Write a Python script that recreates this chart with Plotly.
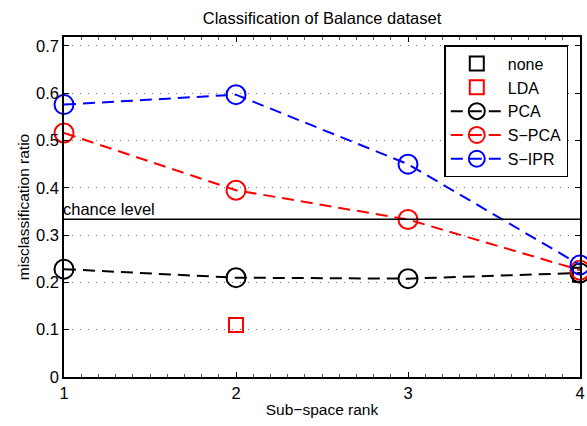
import plotly.graph_objects as go

ranks = [1, 2, 3, 4]
pca = [0.228, 0.210, 0.208, 0.220]
spca = [0.516, 0.395, 0.333, 0.226]
sipr = [0.576, 0.597, 0.450, 0.237]
none_x = [4]
none_y = [0.216]
lda_x = [2]
lda_y = [0.110]
chance = 1 / 3

font = "Liberation Sans, Arial, sans-serif"
fig = go.Figure()

fig.add_trace(go.Scatter(x=none_x, y=none_y, mode="markers", name="none",
                         marker=dict(symbol="square-open", size=14, color="black", line=dict(width=2))))
fig.add_trace(go.Scatter(x=lda_x, y=lda_y, mode="markers", name="LDA",
                         marker=dict(symbol="square-open", size=14, color="red", line=dict(width=2))))
for name, vals, col in [("PCA", pca, "black"), ("S\u2212PCA", spca, "red"), ("S\u2212IPR", sipr, "blue")]:
    fig.add_trace(go.Scatter(x=ranks, y=vals, mode="lines+markers", name=name,
                             line=dict(color=col, width=2, dash="12px,7px"),
                             marker=dict(symbol="circle-open", size=19, color=col, line=dict(width=2)),
                             cliponaxis=False))

fig.add_shape(type="line", xref="x", yref="y", x0=1, x1=4, y0=chance, y1=chance,
              line=dict(color="black", width=1.5))
fig.add_annotation(x=1, y=chance, xref="x", yref="y", text="chance level", showarrow=False,
                   xanchor="left", yanchor="bottom", xshift=-3, yshift=-1,
                   font=dict(size=16.5, color="black", family=font))

fig.update_layout(
    width=587, height=426,
    margin=dict(l=64, r=2, t=37, b=49),
    paper_bgcolor="white", plot_bgcolor="white",
    font=dict(family=font, size=16, color="black"),
    title=dict(text="Classification of Balance dataset", xref="paper", x=0.5, xanchor="center",
               yref="container", y=0.957, yanchor="middle", font=dict(size=16.5)),
    showlegend=True,
    legend=dict(x=0.737, y=0.976, xanchor="left", yanchor="top", bgcolor="white",
                bordercolor="black", borderwidth=1.5, font=dict(size=16), tracegroupgap=0,
                itemwidth=52),
)
fig.update_xaxes(range=[1, 4], tickvals=ranks, ticktext=[str(r) for r in ranks], showgrid=False,
                 ticks="inside", ticklen=5, tickcolor="black", mirror="allticks", showline=True,
                 linecolor="black", linewidth=1.5, zeroline=False, ticklabeloverflow="allow",
                 tickfont=dict(size=16.5),
                 minor=dict(ticks="inside", ticklen=3, dtick=0.1, tickcolor="#555555", tickwidth=1),
                 title=dict(text="Sub\u2212space rank", standoff=4, font=dict(size=15.5)))
fig.update_yaxes(range=[0, 0.719], tickvals=[0, 0.1, 0.2, 0.3, 0.4, 0.5, 0.6, 0.7],
                 ticktext=["0", "0.1", "0.2", "0.3", "0.4", "0.5", "0.6", "0.7"],
                 showgrid=True, gridcolor="#777777", griddash="1px,7px", gridwidth=1,
                 ticks="inside", ticklen=5, tickcolor="black", mirror="allticks", showline=True,
                 linecolor="black", linewidth=1.5, zeroline=False, tickfont=dict(size=16.5),
                 title=dict(text="misclassification ratio", standoff=3, font=dict(size=15.5)))

fig.write_html("out.html")
